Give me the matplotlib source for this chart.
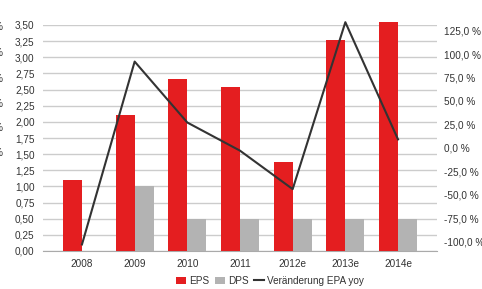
import numpy as np
import matplotlib
matplotlib.use("Agg")
import matplotlib.pyplot as plt
from matplotlib.ticker import FuncFormatter

# Daten
jahre = ["2008", "2009", "2010", "2011", "2012e", "2013e", "2014e"]
eps = [1.10, 2.10, 2.66, 2.54, 1.38, 3.26, 3.54]
dps = [0.0, 1.00, 0.50, 0.50, 0.50, 0.50, 0.50]
veraenderung = [-103, 92, 27, -3, -44, 134, 9]

rot = "#e41e20"
grau = "#b3b3b3"
linie = "#333333"
txt = "#333333"

plt.rcParams['font.family'] = ['Liberation Sans', 'DejaVu Sans']

fig = plt.figure(figsize=(4.82, 2.89), dpi=100)
ax = fig.add_axes([43/482, 38/289, 394/482, 226/289])
ax2 = ax.twinx()

x = np.arange(len(jahre))
b = 0.36
ax.bar(x - b/2, eps, b, color=rot, label="EPS", zorder=3, clip_on=False)
ax.bar(x + b/2, dps, b, color=grau, label="DPS", zorder=3, clip_on=False)

ax.set_ylim(0, 3.5)
ax.set_yticks(np.arange(0, 3.51, 0.25))
ax.yaxis.set_major_formatter(FuncFormatter(lambda v, p: f"{v:.2f}".replace(".", ",")))
ax.set_xlim(-0.74, 6.74)
ax.set_xticks(x)
ax.set_xticklabels(jahre)
ax.grid(axis="y", color="#cccccc", linewidth=1.0, zorder=0)
ax.set_axisbelow(True)
for s in ["top", "right", "left"]:
    ax.spines[s].set_visible(False)
ax.spines["bottom"].set_color("#aaaaaa")
ax.tick_params(axis="both", length=0, labelsize=7.2, colors=txt)
ax.tick_params(axis="y", pad=6)
ax.tick_params(axis="x", pad=6)

ax2.plot(x, veraenderung, color=linie, linewidth=1.5, label="Veränderung EPA yoy", clip_on=False, zorder=4)
ax2.set_ylim(-110, 131)
ax2.set_yticks(np.arange(-100, 126, 25))
ax2.yaxis.set_major_formatter(FuncFormatter(lambda v, p: f"{v:.1f} %".replace(".", ",")))
for s in ["top", "right", "left", "bottom"]:
    ax2.spines[s].set_visible(False)
ax2.tick_params(axis="y", length=0, labelsize=7.2, colors=txt, pad=5)

# abgeschnittene Beschriftungen am linken Rand
for yy in [27, 53, 79, 104, 128, 153]:
    fig.text(3/482, 1 - yy/289, "%", ha="right", va="center", fontsize=7.2, color=txt)

h1, l1 = ax.get_legend_handles_labels()
h2, l2 = ax2.get_legend_handles_labels()
fig.legend(h1 + h2, l1 + l2, loc="center", bbox_to_anchor=(270/482, 1 - 281/289),
           ncol=3, frameon=False, fontsize=7.2, handlelength=1.0, handleheight=0.8,
           handletextpad=0.3, columnspacing=0.6, labelcolor=txt)

fig.savefig("out.png", dpi=100)
